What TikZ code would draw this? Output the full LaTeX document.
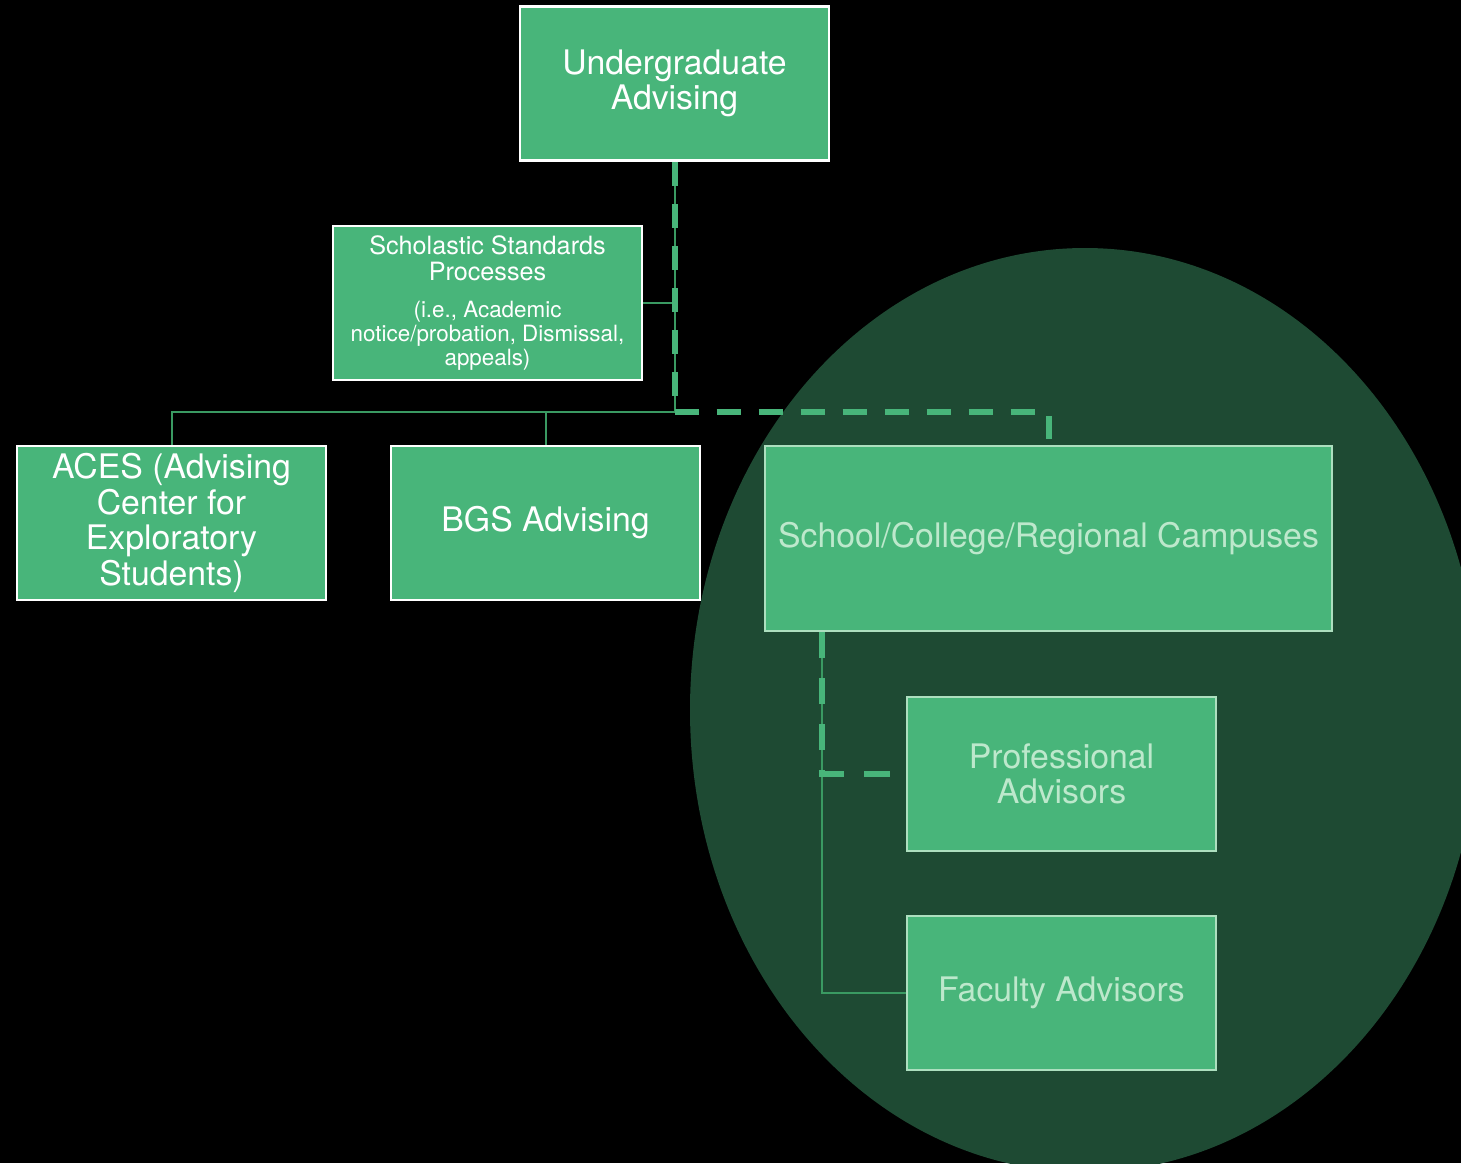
\documentclass[tikz,border=0pt]{standalone}
\usepackage{fontspec}
\setmainfont{TeX Gyre Heros}
\definecolor{bgcol}{HTML}{000000}
\definecolor{ellcol}{HTML}{1E4A33}
\definecolor{boxfill}{HTML}{48B57A}
\definecolor{thinline}{HTML}{3A9A62}
\definecolor{dashcol}{HTML}{48B57A}
\definecolor{mintborder}{HTML}{ADDFBF}
\definecolor{minttext}{HTML}{BDE8CC}
\newcommand{\smallnote}{\fontsize{11.2}{11.8}\selectfont}
\begin{document}
\begin{tikzpicture}[x=0.5pt,y=-0.5pt,
  box/.style={draw=white, line width=1.25pt, fill=boxfill, text=white,
    align=center, inner sep=0pt, minimum width=154.5pt, minimum height=77pt,
    font=\fontsize{16.9}{17.8}\selectfont},
  mintbox/.style={box, draw=mintborder, text=minttext},
  thin/.style={draw=thinline, line width=1pt},
  thick dash/.style={draw=dashcol, line width=3pt, dash pattern=on 12pt off 9pt}]
\useasboundingbox (0,0) rectangle (1461,1163);
\fill[bgcol] (0,0) rectangle (1461,1163);
\fill[ellcol] (1085,710) ellipse [x radius=197.5pt, y radius=231pt];

\node[box] (UA) at (674.5,83.5) {Undergraduate\\Advising};
\node[box, font=\fontsize{12.6}{13}\selectfont] (SSP) at (487.5,303)
  {Scholastic Standards\\Processes\\[5.5pt]
   \smallnote (i.e., Academic\\[-1.2pt]\smallnote notice/probation, Dismissal,\\[-1.2pt]\smallnote appeals)};
\node[box] (ACES) at (171.5,523) {ACES (Advising\\Center for\\Exploratory\\Students)};
\node[box] (BGS) at (545.5,523) {BGS Advising};
\node[mintbox, minimum width=283.5pt, minimum height=92.5pt] (SCR) at (1048.5,538.5)
  {School/College/Regional Campuses};
\node[mintbox] (PROF) at (1061.5,774) {Professional\\Advisors};
\node[mintbox] (FAC) at (1061.5,993) {Faculty Advisors};

\coordinate (j1) at (674.5,412);
\coordinate (c2) at (822,632);

% thin solid connectors
\draw[thin] (UA.south) -- (j1);
\draw[thin] (j1) -| (ACES.north);
\draw[thin] (j1) -| (BGS.north);
\draw[thin] (SSP.east) -- (SSP.east -| j1);
\draw[thin] (c2) |- (FAC.west);

% thick dashed connectors
\draw[thick dash] (UA.south) -- (j1);
\draw[thick dash, shorten >=3pt] (j1) -| (SCR.north);
\draw[thick dash, dash pattern=on 13pt off 10pt, shorten >=7pt] (c2) |- (PROF.west);
\end{tikzpicture}
\end{document}
